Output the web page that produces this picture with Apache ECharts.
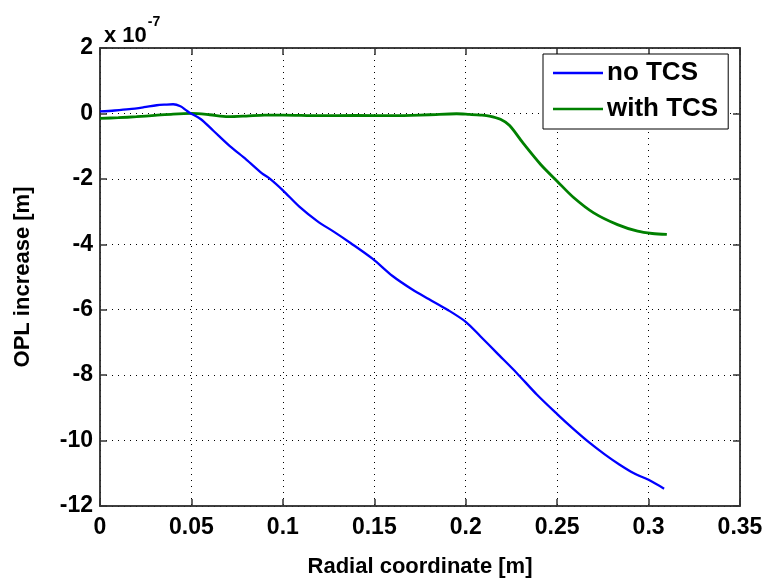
<!DOCTYPE html>
<html>
<head>
<meta charset="utf-8">
<script src="https://cdn.jsdelivr.net/npm/echarts@6/dist/echarts.min.js"></script>
<style>html,body{margin:0;padding:0;background:#fff;}#c{width:781px;height:583px;}</style>
</head>
<body>
<div id="c"></div>
<script>
// values in units of 1e-7 m
const blueX = [0, 0.008, 0.016, 0.024, 0.031, 0.036, 0.04, 0.044, 0.047, 0.049, 0.055, 0.062, 0.071, 0.080, 0.0886, 0.093, 0.1, 0.109, 0.119, 0.128, 0.137, 0.149, 0.160, 0.171, 0.180, 0.190, 0.200, 0.208, 0.217, 0.228, 0.239, 0.25, 0.259, 0.268, 0.276, 0.284, 0.292, 0.3, 0.3085];
const blueY = [0.06, 0.09, 0.13, 0.19, 0.25, 0.27, 0.28, 0.22, 0.1, 0.02, -0.17, -0.53, -1.0, -1.41, -1.83, -2.0, -2.35, -2.85, -3.3, -3.62, -3.96, -4.44, -4.97, -5.39, -5.68, -6.0, -6.37, -6.81, -7.32, -7.94, -8.6, -9.19, -9.65, -10.08, -10.42, -10.73, -11.0, -11.2, -11.47];
const greenX = [0, 0.01, 0.02, 0.03, 0.04, 0.05, 0.06, 0.07, 0.08, 0.09, 0.1, 0.12, 0.14, 0.16, 0.18, 0.195, 0.202, 0.208, 0.213, 0.219, 0.224, 0.231, 0.241, 0.25, 0.259, 0.27, 0.283, 0.294, 0.302, 0.31];
const greenY = [-0.15, -0.13, -0.1, -0.06, -0.02, 0.0, -0.04, -0.1, -0.08, -0.05, -0.05, -0.07, -0.06, -0.07, -0.04, -0.01, -0.03, -0.05, -0.08, -0.18, -0.37, -0.88, -1.56, -2.07, -2.57, -3.04, -3.4, -3.6, -3.67, -3.7];
const xTicks = {min: 0, max: 0.35, step: 0.05};
const yTicks = {min: -12, max: 2, step: 2};
const seriesNames = ['no TCS', 'with TCS'];
const xTitle = 'Radial coordinate [m]';
const yTitle = 'OPL increase [m]';

const font = 'Liberation Sans, Arial, sans-serif';
const pair = (xs, ys) => xs.map((x, i) => [x, ys[i]]);
const axisColor = '#333';
const chart = echarts.init(document.getElementById('c'));
chart.setOption({
  animation: false,
  backgroundColor: '#fff',
  title: {
    text: '{a|x 10}{b|-7}',
    left: 99, top: 10,
    textStyle: {
      rich: {
        a: {fontFamily: font, fontWeight: 'bold', fontSize: 22, color: '#000', verticalAlign: 'bottom', padding: [10, 0, 0, 0]},
        b: {fontFamily: font, fontWeight: 'bold', fontSize: 14, color: '#000', verticalAlign: 'top', padding: [0, 0, 12, 1]}
      }
    }
  },
  grid: {left: 100, top: 48, width: 640, height: 472, show: true, borderColor: axisColor, borderWidth: 1.5, backgroundColor: '#fff'},
  legend: {
    data: seriesNames,
    orient: 'vertical',
    left: 543, top: 54,
    backgroundColor: '#fff',
    borderColor: '#000', borderWidth: 1,
    padding: [6, 10, 7, 10],
    icon: 'rect',
    itemWidth: 50, itemHeight: 2.5, itemGap: 10,
    textStyle: {fontFamily: font, fontWeight: 'bold', fontSize: 26, color: '#000', lineHeight: 26, padding: [0, 0, 0, -1]}
  },
  xAxis: [{
    type: 'value', min: xTicks.min, max: xTicks.max, interval: xTicks.step,
    name: xTitle, nameLocation: 'middle', nameGap: 50,
    nameTextStyle: {fontFamily: font, fontWeight: 'bold', fontSize: 22, color: '#000'},
    axisLine: {show: true, onZero: false, lineStyle: {color: axisColor, width: 1.5}},
    axisTick: {show: true, inside: true, length: 7, lineStyle: {color: axisColor, width: 1.5}},
    axisLabel: {fontFamily: font, fontWeight: 'bold', fontSize: 23, color: '#000', margin: 10, formatter: v => String(+v.toFixed(2))},
    splitLine: {show: true, lineStyle: {color: '#000', type: [1, 5], width: 1}}
  }, {
    type: 'value', position: 'top', min: xTicks.min, max: xTicks.max, interval: xTicks.step,
    axisLine: {show: true, onZero: false, lineStyle: {color: axisColor, width: 1.5}},
    axisTick: {show: true, inside: true, length: 7, lineStyle: {color: axisColor, width: 1.5}},
    axisLabel: {show: false}, splitLine: {show: false}
  }],
  yAxis: [{
    type: 'value', min: yTicks.min, max: yTicks.max, interval: yTicks.step,
    name: yTitle, nameLocation: 'middle', nameGap: 66,
    nameTextStyle: {fontFamily: font, fontWeight: 'bold', fontSize: 22, color: '#000'},
    axisLine: {show: true, onZero: false, lineStyle: {color: axisColor, width: 1.5}},
    axisTick: {show: true, inside: true, length: 7, lineStyle: {color: axisColor, width: 1.5}},
    axisLabel: {fontFamily: font, fontWeight: 'bold', fontSize: 23, color: '#000', margin: 7},
    splitLine: {show: true, lineStyle: {color: '#000', type: [1, 5], width: 1}}
  }, {
    type: 'value', position: 'right', min: yTicks.min, max: yTicks.max, interval: yTicks.step,
    axisLine: {show: true, onZero: false, lineStyle: {color: axisColor, width: 1.5}},
    axisTick: {show: true, inside: true, length: 7, lineStyle: {color: axisColor, width: 1.5}},
    axisLabel: {show: false}, splitLine: {show: false}
  }],
  series: [{
    name: seriesNames[0], type: 'line', data: pair(blueX, blueY),
    symbol: 'none', smooth: 0.3, lineStyle: {color: '#0000ff', width: 2.3}, itemStyle: {color: '#0000ff'}, z: 3
  }, {
    name: seriesNames[1], type: 'line', data: pair(greenX, greenY),
    symbol: 'none', smooth: 0.3, lineStyle: {color: '#008000', width: 2.8}, itemStyle: {color: '#008000'}, z: 2
  }]
});
</script>
</body>
</html>
